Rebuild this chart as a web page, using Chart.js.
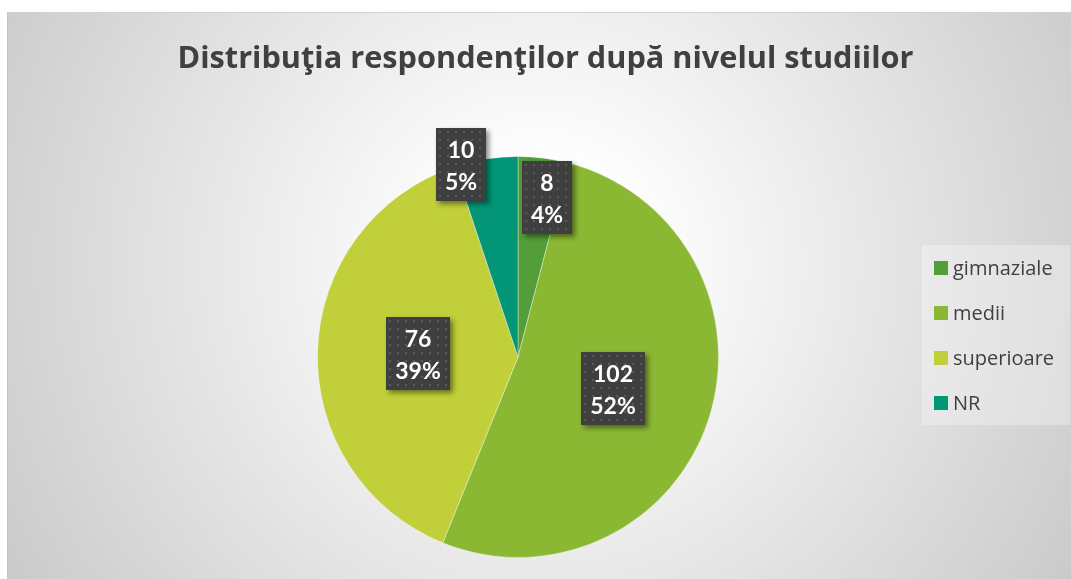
<!DOCTYPE html>
<html>
<head>
<meta charset="utf-8">
<script src="https://cdn.jsdelivr.net/npm/chart.js@4.4.1/dist/chart.umd.min.js"></script>
<style>
  html, body { margin: 0; padding: 0; background: #fff; overflow: hidden; }
  #frame {
    position: absolute; left: 7px; top: 12px; width: 1090px; height: 600px;
    border-top: 1px solid #d2d2d2; border-left: 1px solid #c4c4c4;
    background: radial-gradient(circle farthest-corner at 533px 250px, #ffffff 0%, #ffffff 14%, #c6c6c6 100%);
  }
  #wrap { position: absolute; left: 0; top: 0; width: 1063px; height: 567px; }
</style>
</head>
<body>
<div id="frame"><div id="wrap"><canvas id="studiiChart"></canvas></div></div>
<script>
const chartTitle = 'Distribuţia respondenţilor după nivelul studiilor';
const categories = ['gimnaziale', 'medii', 'superioare', 'NR'];
const respondents = [8, 102, 76, 10];
const sliceColors = ['#549E39', '#8AB833', '#C0CF3A', '#029676'];

const TITLE_FONT = '"Open Sans", Lato, sans-serif';
const LABEL_FONT = 'Lato, "Open Sans", sans-serif';

// dotted fill used by the Excel-style label boxes
function dotPattern(ctx) {
  const c = document.createElement('canvas');
  c.width = 8; c.height = 8;
  const p = c.getContext('2d');
  p.fillStyle = '#3f3f3f';
  p.fillRect(0, 0, 8, 8);
  p.fillStyle = '#5a5a5a';
  p.fillRect(3, 3, 2, 2);
  return ctx.createPattern(c, 'repeat');
}

// title drawn over the whole canvas width (pie sits left of centre)
const heading = {
  id: 'heading',
  afterDraw(chart, args, opts) {
    const ctx = chart.ctx;
    ctx.save();
    ctx.font = opts.font;
    ctx.fillStyle = opts.color;
    ctx.textAlign = 'center';
    ctx.textBaseline = 'alphabetic';
    ctx.fillText(opts.text, opts.x, opts.y);
    ctx.restore();
  }
};

// value + percent boxes on the slices
const labelBoxes = {
  id: 'labelBoxes',
  afterDatasetsDraw(chart, args, opts) {
    const ctx = chart.ctx;
    const meta = chart.getDatasetMeta(0);
    const values = chart.data.datasets[0].data;
    const total = values.reduce((a, b) => a + b, 0);
    const pattern = dotPattern(ctx);
    meta.data.forEach((arc, i) => {
      const p = arc.getProps(['x', 'y', 'startAngle', 'endAngle', 'outerRadius'], true);
      const mid = (p.startAngle + p.endAngle) / 2 + opts.shift[i] * Math.PI / 180;
      const r = p.outerRadius * opts.radius[i];
      const cx = p.x + Math.cos(mid) * r;
      const cy = p.y + Math.sin(mid) * r;
      const lines = [String(values[i]), Math.round(values[i] / total * 100) + '%'];
      ctx.font = opts.font;
      const w = Math.round(Math.max(...lines.map(t => ctx.measureText(t).width)) + 2 * opts.padX);
      const h = opts.height;
      const x = Math.round(cx - w / 2), y = Math.round(cy - h / 2);

      ctx.save();
      ctx.shadowColor = 'rgba(0,0,0,0.45)';
      ctx.shadowBlur = 5;
      ctx.shadowOffsetX = 3;
      ctx.shadowOffsetY = 3;
      ctx.fillStyle = '#3f3f3f';
      ctx.fillRect(x, y, w, h);
      ctx.restore();

      ctx.save();
      ctx.translate(x, y);
      ctx.fillStyle = pattern;
      ctx.fillRect(0, 0, w, h);
      ctx.restore();

      ctx.save();
      ctx.fillStyle = '#ffffff';
      ctx.textAlign = 'center';
      ctx.textBaseline = 'alphabetic';
      ctx.fillText(lines[0], x + w / 2, y + opts.base[0]);
      ctx.fillText(lines[1], x + w / 2, y + opts.base[1]);
      ctx.restore();
    });
  }
};

// legend box on the right
const sideLegend = {
  id: 'sideLegend',
  afterDraw(chart, args, opts) {
    const ctx = chart.ctx;
    const ds = chart.data.datasets[0];
    ctx.save();
    ctx.fillStyle = 'rgba(255,255,255,0.3)';
    ctx.fillRect(opts.left, opts.top, opts.width, opts.height);
    ctx.font = opts.font;
    ctx.textBaseline = 'alphabetic';
    chart.data.labels.forEach((label, i) => {
      const cy = opts.firstRow + i * opts.rowStep;
      ctx.fillStyle = ds.backgroundColor[i];
      ctx.fillRect(opts.boxX, cy - 7, 14, 14);
      ctx.fillStyle = '#404040';
      ctx.fillText(label, opts.textX, cy + 7);
    });
    ctx.restore();
  }
};

new Chart(document.getElementById('studiiChart'), {
  type: 'pie',
  data: {
    labels: categories,
    datasets: [{
      data: respondents,
      backgroundColor: sliceColors,
      borderColor: 'rgba(255,255,255,0.35)',
      borderWidth: 1
    }]
  },
  options: {
    responsive: true,
    maintainAspectRatio: false,
    animation: false,
    layout: { padding: { top: 143, bottom: 22, left: 0, right: 43 } },
    plugins: {
      legend: { display: false },
      tooltip: { enabled: false },
      title: { display: false },
      heading: { text: chartTitle, x: 537.5, y: 55, font: 'bold 30.7px ' + TITLE_FONT, color: '#404040' },
      labelBoxes: {
        radius: [0.81, 0.5, 0.5, 1.0],
        shift: [2.9, 0, 0, -7.2],
        font: 'bold 23px ' + LABEL_FONT,
        padX: 9,
        height: 73,
        base: [30, 62]
      },
      sideLegend: {
        left: 914, top: 232, width: 148, height: 180,
        boxX: 926, textX: 945, firstRow: 255, rowStep: 45,
        font: '20px ' + TITLE_FONT
      }
    }
  },
  plugins: [heading, labelBoxes, sideLegend]
});
</script>
</body>
</html>
